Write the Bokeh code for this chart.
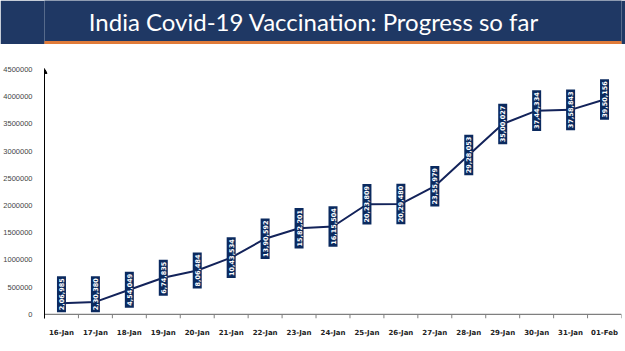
import numpy as np
from bokeh.plotting import figure
from bokeh.layouts import column
from bokeh.models import (Range1d, FixedTicker, LinearAxis,
                          BasicTickFormatter, ColumnDataSource, Arrow, NormalHead)
from bokeh.core.properties import value
from bokeh.embed import file_html
from bokeh.resources import INLINE

# ---------------- data ----------------
dates = ["16-Jan", "17-Jan", "18-Jan", "19-Jan", "20-Jan", "21-Jan", "22-Jan", "23-Jan", "24-Jan",
         "25-Jan", "26-Jan", "27-Jan", "28-Jan", "29-Jan", "30-Jan", "31-Jan", "01-Feb"]
doses = [206985, 230380, 454049, 674835, 806484, 1043534, 1390592, 1582201, 1615504,
         2023809, 2029480, 2355979, 2928053, 3500027, 3744334, 3758843, 3950156]
labels = ["2,06,985", "2,30,380", "4,54,049", "6,74,835", "8,06,484", "10,43,534", "13,90,592",
          "15,82,201", "16,15,504", "20,23,809", "20,29,480", "23,55,979", "29,28,053",
          "35,00,027", "37,44,334", "37,58,843", "39,50,156"]
y_ticks = [0, 500000, 1000000, 1500000, 2000000, 2500000, 3000000, 3500000, 4000000, 4500000]
title_text = "India Covid-19 Vaccination: Progress so far"

NAVY_BAND = "#1F3864"
ORANGE = "#E07B39"
BOX = "#0B2A5F"
LINE = "#13235A"

W = 625
n = len(dates)
xc = np.arange(n) + 0.5          # category centres
xb = np.arange(n + 1)            # category boundaries
YMAX = 4500000
TICK = 75000                     # tick length below the axis, in data units (~4px)

# ---------------- header ----------------
hdr = figure(width=W, height=44, x_range=Range1d(0, W), y_range=Range1d(0, 44),
             output_backend="svg", toolbar_location=None, min_border=0,
             x_axis_location=None, y_axis_location=None,
             background_fill_color=NAVY_BAND, border_fill_color=NAVY_BAND,
             outline_line_color=None)
hdr.grid.visible = False
hdr.quad(left=[0], right=[W], bottom=[0], top=[3], color=ORANGE)
hdr.text(x=[48], y=[23], text=[title_text], text_align="left", text_baseline="middle",
         text_color="white", text_font=value("Lato"), text_font_size="24px")

# ---------------- main chart ----------------
p = figure(width=W, height=307, x_range=Range1d(0, n), y_range=Range1d(-TICK, YMAX),
           output_backend="svg", toolbar_location=None,
           min_border_left=40, min_border_right=4, min_border_top=25, min_border_bottom=33,
           x_axis_location=None, y_axis_location=None, outline_line_color=None,
           background_fill_color="white", border_fill_color="white")
p.grid.visible = False

# y axis
yax = LinearAxis(ticker=FixedTicker(ticks=y_ticks),
                 formatter=BasicTickFormatter(use_scientific=False),
                 axis_line_color="black", axis_line_width=1,
                 major_tick_line_color=None, minor_tick_line_color=None,
                 major_label_text_font="Liberation Sans",
                 major_label_text_font_size="7.5px", major_label_text_color="#444444",
                 major_label_standoff=6)
p.add_layout(yax, "left")

# x axis labels (centred in categories, no tick marks)
cax = LinearAxis(ticker=FixedTicker(ticks=list(xc)),
                 major_label_overrides={float(c): d for c, d in zip(xc, dates)},
                 axis_line_color=None, major_tick_line_color=None,
                 minor_tick_line_color=None,
                 major_label_text_font="DejaVu Sans",
                 major_label_text_font_style="bold",
                 major_label_text_font_size="7px", major_label_text_color="#222222",
                 major_label_standoff=4)
p.add_layout(cax, "below")

# x axis line and boundary tick marks
p.segment(x0=[0], x1=[n], y0=[0], y1=[0], line_color="#7F7F7F", line_width=1.2)
p.segment(x0=xb, x1=xb, y0=np.zeros(n + 1), y1=np.full(n + 1, -TICK),
          line_color="#7F7F7F", line_width=1)

# arrow head on y axis
p.add_layout(Arrow(x_start=0, y_start=4300000, x_end=0, y_end=YMAX + 20000, line_color="black",
                   line_width=1, end=NormalHead(size=5, fill_color="black", line_color="black")))

src = ColumnDataSource(dict(x=xc, y=doses, lab=labels,
                            ly=np.maximum(np.array(doses), 370000)))
p.line("x", "y", source=src, line_color=LINE, line_width=2)
p.text("x", "ly", text="lab", source=src, angle=np.pi / 2, text_align="center",
       text_baseline="middle", text_color="white", text_font=value("DejaVu Sans"),
       text_font_style="bold", text_font_size="6.5px",
       background_fill_color=BOX, padding=2)

layout = column(hdr, p, spacing=0)
open("out.html", "w").write(file_html(layout, INLINE))
